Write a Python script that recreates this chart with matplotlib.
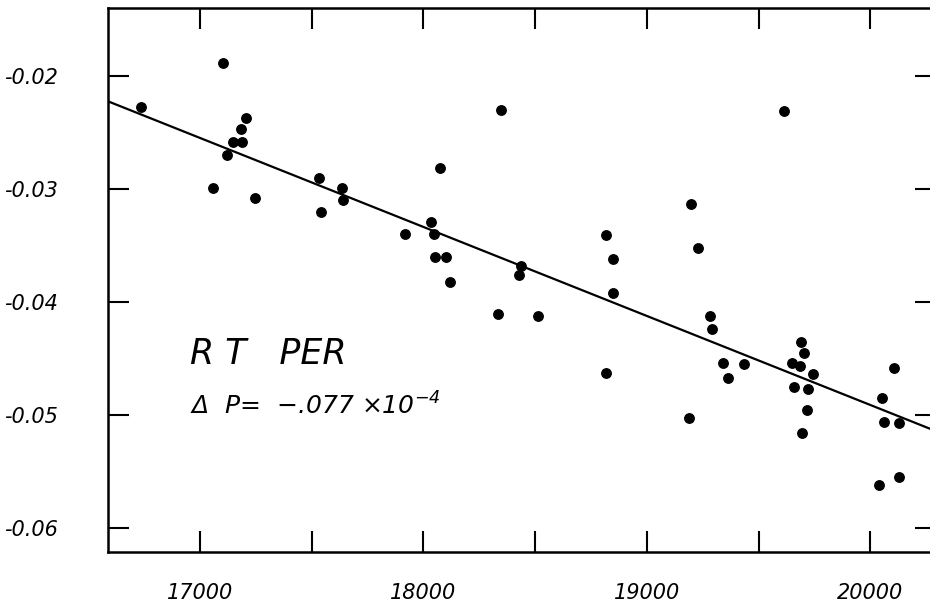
import matplotlib
matplotlib.use('Agg')
import matplotlib.pyplot as plt

# data
x_pts = [16736, 17103, 17206, 17184, 17148, 17188, 17121, 17058, 17246, 17533,
         17636, 17640, 17542, 17918, 18034, 18047, 18052, 18101, 18119, 18074,
         18347, 18437, 18428, 18334, 18513, 18817, 18849, 18849, 18817, 19189,
         19198, 19229, 19283, 19292, 19341, 19363, 19435, 19614, 19690, 19704,
         19650, 19686, 19744, 19659, 19722, 19717, 19695, 20106, 20053, 20062,
         20129, 20039, 20129]
y_pts = [-0.0227, -0.0188, -0.0237, -0.0247, -0.0258, -0.0258, -0.0270, -0.0299, -0.0308, -0.0290,
         -0.0299, -0.0310, -0.0320, -0.0340, -0.0329, -0.0340, -0.0360, -0.0360, -0.0382, -0.0281,
         -0.0230, -0.0368, -0.0376, -0.0411, -0.0412, -0.0341, -0.0362, -0.0392, -0.0463, -0.0503,
         -0.0313, -0.0352, -0.0412, -0.0424, -0.0454, -0.0467, -0.0455, -0.0231, -0.0435, -0.0445,
         -0.0454, -0.0457, -0.0464, -0.0475, -0.0477, -0.0496, -0.0516, -0.0458, -0.0485, -0.0506,
         -0.0507, -0.0562, -0.0555]

# fitted line as drawn
line_x = [16588, 20294]
line_y = [-0.02223, -0.05143]

xticks = [17000, 17500, 18000, 18500, 19000, 19500, 20000]
xtick_labels = ['17000', '', '18000', '', '19000', '', '20000']
yticks = [-0.06, -0.05, -0.04, -0.03, -0.02]
ytick_labels = ['-0.06', '-0.05', '-0.04', '-0.03', '-0.02']

plt.rcParams['mathtext.fontset'] = 'custom'
plt.rcParams['mathtext.it'] = 'DejaVu Sans:italic'
plt.rcParams['mathtext.rm'] = 'DejaVu Sans:italic'

fig = plt.figure(figsize=(9.3, 6.01), dpi=100)
# right spine sits just past the edge of the image
ax = fig.add_axes([108 / 930, 49 / 601, 828 / 930, 544 / 601])

ax.plot(line_x, line_y, color='black', linewidth=1.6)
ax.plot(x_pts, y_pts, 'o', color='black', markersize=6.8)

ax.set_xlim(16588, 20294)
ax.set_ylim(-0.06213, -0.01397)

ax.set_xticks(xticks)
ax.set_xticklabels(xtick_labels, fontsize=15, style='italic')
ax.set_yticks(yticks)
ax.set_yticklabels(ytick_labels, fontsize=15, style='italic')
ax.tick_params(direction='in', length=15, width=1.5, top=True, right=True)
ax.tick_params(axis='x', pad=22)
ax.tick_params(axis='y', pad=36)
for s in ax.spines.values():
    s.set_linewidth(1.8)

ax.text(16955, -0.0446, 'R T   PER', fontsize=25, style='italic', va='center')
ax.text(16955, -0.0492, r'$\Delta$  P=  $-$.077 $\times$10$^{-4}$', fontsize=18,
        style='italic', va='center')

fig.savefig('out.png', dpi=100)
